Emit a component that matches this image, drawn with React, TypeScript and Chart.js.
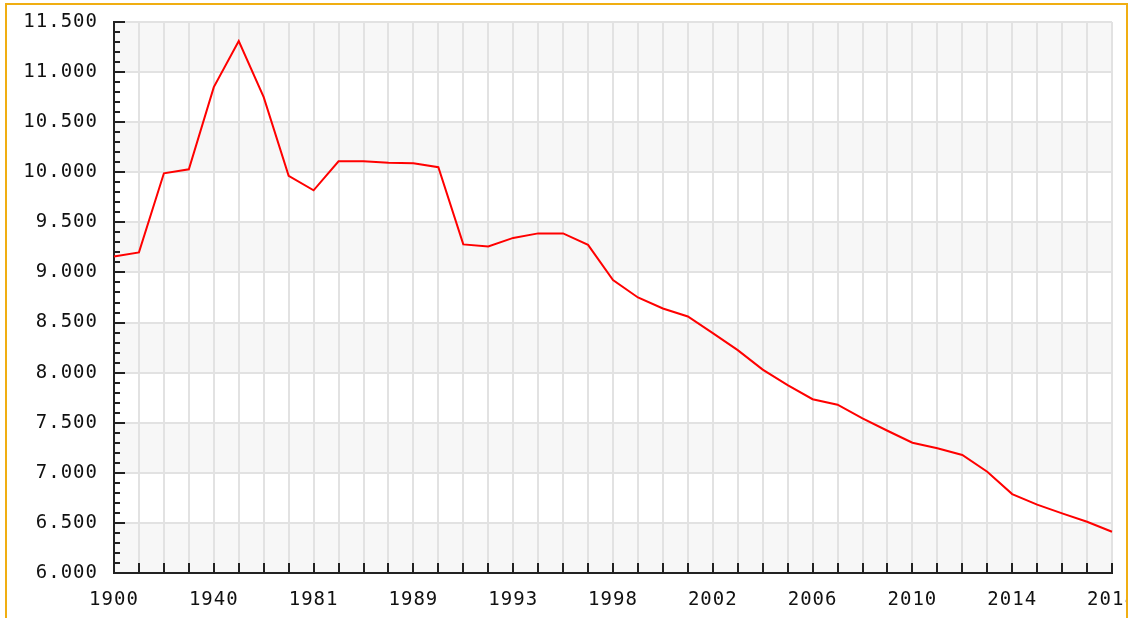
import React, { useEffect, useRef } from "react";
import { Chart, registerables } from "chart.js";

Chart.register(...registerables);

const categories = [
  "1900", "1910", "1920", "1930", "1940", "1950", "1960", "1970",
  "1981", "1983", "1985", "1987", "1989", "1990", "1991", "1992",
  "1993", "1994", "1995", "1997", "1998", "1999", "2000", "2001",
  "2002", "2003", "2004", "2005", "2006", "2007", "2008", "2009",
  "2010", "2011", "2012", "2013", "2014", "2015", "2016", "2017", "2018",
];

const population = [
  9160, 9200, 9990, 10030, 10850, 11310, 10750, 9965,
  9820, 10110, 10110, 10095, 10090, 10050, 9280, 9260,
  9345, 9390, 9390, 9275, 8925, 8750, 8640, 8560,
  8395, 8225, 8030, 7875, 7735, 7680, 7544, 7420,
  7300, 7245, 7178, 7011, 6788, 6682, 6595, 6512, 6412,
];

const yMin = 6000;
const yMax = 11500;
const yStep = 500;
const yMinorStep = 100;
const xLabelEvery = 4;

const fmt = (v: number) => {
  const s = Math.round(v).toString();
  return s.replace(/\B(?=(\d{3})+(?!\d))/g, ".");
};

const SPACING = "1px";

const decorPlugin = {
  id: "decor",
  beforeLayout(chart: any) {
    chart.ctx.letterSpacing = SPACING;
  },
  beforeDraw(chart: any) {
    const { ctx, chartArea, scales } = chart;
    const y = scales.y;
    ctx.save();
    let band = 0;
    for (let v = yMin; v < yMax; v += yStep) {
      if (band % 2 === 0) {
        const top = y.getPixelForValue(v + yStep);
        const bot = y.getPixelForValue(v);
        ctx.fillStyle = "#f7f7f7";
        ctx.fillRect(chartArea.left, top, chartArea.right - chartArea.left, bot - top);
      }
      band++;
    }
    ctx.restore();
    ctx.letterSpacing = SPACING;
  },
  afterDraw(chart: any) {
    const { ctx, chartArea, scales } = chart;
    const y = scales.y;
    const x = scales.x;
    ctx.save();
    ctx.strokeStyle = "#222";
    ctx.lineWidth = 2;
    ctx.beginPath();
    for (let v = yMin; v <= yMax; v += yMinorStep) {
      const py = Math.round(y.getPixelForValue(v));
      const len = v % yStep === 0 ? 11 : 6;
      ctx.moveTo(chartArea.left, py);
      ctx.lineTo(chartArea.left + len, py);
    }
    for (let i = 0; i < categories.length; i++) {
      const px = Math.round(x.getPixelForValue(i));
      ctx.moveTo(px, chartArea.bottom);
      ctx.lineTo(px, chartArea.bottom - 10);
    }
    ctx.stroke();
    ctx.restore();
  },
};

export default function App() {
  const ref = useRef<HTMLCanvasElement>(null);
  useEffect(() => {
    if (!ref.current) return;
    const font = { family: "'DejaVu Sans Mono', monospace", size: 19 };
    const chart = new Chart(ref.current, {
      type: "line",
      data: {
        labels: categories,
        datasets: [
          {
            data: population,
            borderColor: "#ff0000",
            borderWidth: 2,
            pointRadius: 0,
            tension: 0,
            fill: false,
          },
        ],
      },
      options: {
        animation: false,
        responsive: false,
        devicePixelRatio: 1,
        layout: { padding: { left: 8, right: 30, top: 22, bottom: 0 } },
        plugins: { legend: { display: false }, tooltip: { enabled: false } },
        scales: {
          x: {
            grid: { color: "#e2e2e2", lineWidth: 2, drawTicks: false },
            border: { display: true, color: "#222", width: 2 },
            ticks: {
              autoSkip: false,
              maxRotation: 0,
              minRotation: 0,
              padding: 16,
              color: "#111",
              font,
              callback: (_v: any, i: number) => (i % xLabelEvery === 0 ? categories[i] : ""),
            },
            afterFit: (s: any) => {
              s.height = 45;
              s.paddingLeft = 0;
              s.paddingRight = 0;
            },
          },
          y: {
            min: yMin,
            max: yMax,
            grid: { color: "#e2e2e2", lineWidth: 2, drawTicks: false },
            border: { display: true, color: "#222", width: 2 },
            ticks: {
              stepSize: yStep,
              padding: 16,
              color: "#111",
              font,
              callback: (v: any) => fmt(Number(v)),
            },
            afterFit: (s: any) => {
              s.width = 106;
              s.paddingTop = 0;
              s.paddingBottom = 0;
            },
          },
        },
      },
      plugins: [decorPlugin],
    });
    return () => chart.destroy();
  }, []);

  return (
    <div style={{ position: "absolute", left: 0, top: 0, width: 1129, height: 618, background: "#fff" }}>
      <div style={{ position: "absolute", left: 0, top: 0, width: 1126, height: 618, overflow: "hidden" }}>
        <canvas ref={ref} width={1142} height={618} style={{ display: "block", width: 1142, height: 618 }} />
      </div>
      <div
        style={{
          position: "absolute",
          left: 5,
          top: 3,
          width: 1119,
          height: 700,
          borderTop: "2px solid #f0ae12",
          borderLeft: "2px solid #f0ae12",
          borderRight: "2px solid #f0ae12",
          pointerEvents: "none",
        }}
      />
    </div>
  );
}
